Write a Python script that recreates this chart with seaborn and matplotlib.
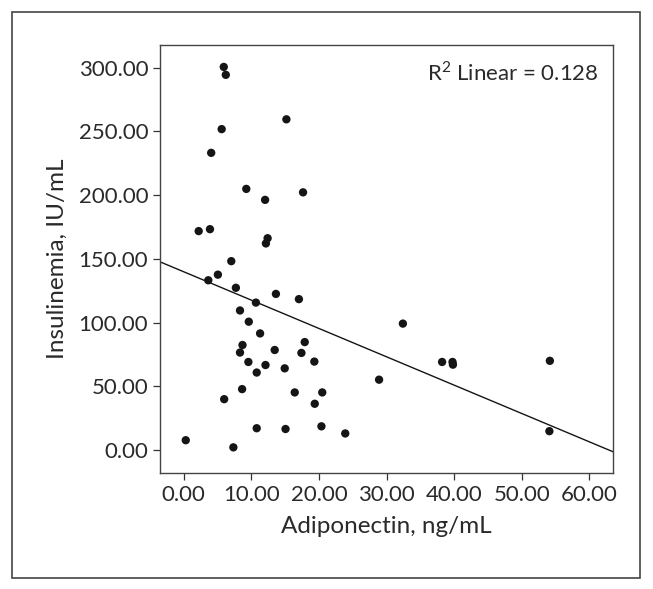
import numpy as np
import pandas as pd
import matplotlib
matplotlib.use("Agg")
import matplotlib.pyplot as plt
import matplotlib.patches as patches
import seaborn as sns

# values
adiponectin = [5.93, 6.23, 15.19, 5.62, 4.07, 9.26, 17.65, 12.04, 2.22, 3.89,
               12.41, 12.16, 7.04, 5.06, 3.64, 7.72, 13.64, 17.04, 10.68, 8.33,
               9.63, 32.41, 11.30, 17.90, 8.70, 8.33, 13.46, 17.41, 9.57, 19.32,
               12.10, 38.21, 39.75, 39.81, 54.14, 14.94, 10.80, 28.89, 8.64, 16.42,
               20.49, 5.99, 19.38, 10.80, 15.06, 20.37, 23.89, 54.07, 0.31, 7.35]
insulinemia = [300.6, 294.4, 259.5, 251.8, 233.2, 204.9, 202.2, 196.3, 171.8, 173.3,
               166.2, 162.1, 148.2, 137.6, 133.2, 127.3, 122.5, 118.4, 115.7, 109.5,
               100.7, 99.2, 91.5, 84.7, 82.4, 76.5, 78.5, 76.2, 69.1, 69.4,
               66.7, 69.1, 69.1, 67.0, 70.0, 64.1, 60.8, 55.2, 47.8, 45.2,
               45.2, 39.9, 36.3, 17.1, 16.5, 18.6, 13.0, 14.8, 7.7, 2.1]
x_ticks = [0, 10, 20, 30, 40, 50, 60]
y_ticks = [0, 50, 100, 150, 200, 250, 300]
r2_label = "R$^2$ Linear = 0.128"

df = pd.DataFrame({"adiponectin": adiponectin, "insulinemia": insulinemia})

sns.set_style("white")
plt.rcParams['font.family'] = ['Lato', 'DejaVu Sans']
plt.rcParams['mathtext.fontset'] = 'custom'
plt.rcParams['mathtext.rm'] = 'Lato'

fig = plt.figure(figsize=(6.53, 5.89), dpi=100)
ax = fig.add_axes([0.245, 0.197, 0.694, 0.727])

ax.set_xlim(-3.5, 63.5)
ax.set_ylim(-18, 318)

sns.regplot(data=df, x="adiponectin", y="insulinemia", ax=ax, ci=None, truncate=False,
            scatter_kws=dict(s=36, color="#151515", edgecolor="none", alpha=1),
            line_kws=dict(color="#151515", lw=1.0))

ax.set_xlim(-3.5, 63.5)
ax.set_ylim(-18, 318)
ax.set_xticks(x_ticks)
ax.set_yticks(y_ticks)
ax.set_xticklabels([f"{v:.2f}" for v in x_ticks])
ax.set_yticklabels([f"{v:.2f}" for v in y_ticks])
ax.tick_params(axis="both", labelsize=16, length=5, width=0.9, direction="out",
               color="#333333", labelcolor="#2a2a2a", bottom=True, left=True)
for sp in ax.spines.values():
    sp.set_color("#444444")
    sp.set_linewidth(1.0)

ax.set_xlabel("Adiponectin, ng/mL", fontsize=17.5, color="#2a2a2a", labelpad=8)
ax.set_ylabel("Insulinemia, IU/mL", fontsize=17.5, color="#2a2a2a", labelpad=8)

ax.text(0.969, 0.935, r2_label, transform=ax.transAxes, ha="right", va="center",
        fontsize=16, color="#2a2a2a")

# outer frame around the whole figure
frame = patches.Rectangle((12 / 653, 1 - 578 / 589), 628 / 653, 566 / 589,
                          transform=fig.transFigure, fill=False,
                          edgecolor="#444444", lw=1.2)
fig.patches.append(frame)

fig.savefig("out.png", dpi=100)
